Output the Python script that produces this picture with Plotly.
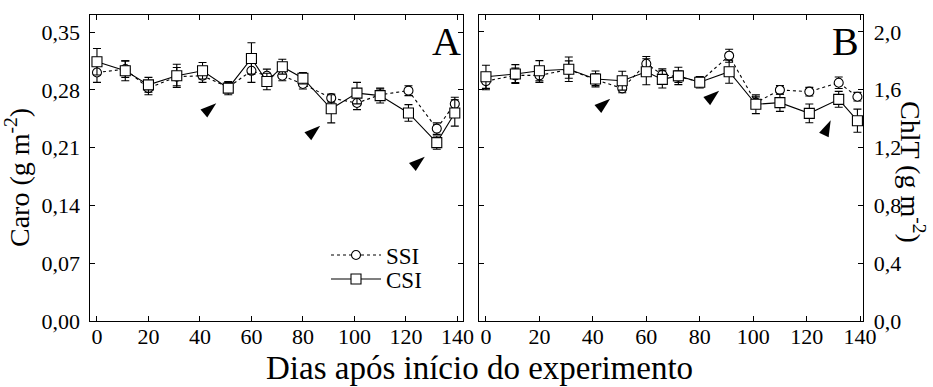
import plotly.graph_objects as go

days = [0, 11, 20, 31, 41, 51, 60, 66, 72, 80, 91, 101, 110, 121, 132, 139]

caro_ssi = [0.301, 0.305, 0.282, 0.296, 0.297, 0.283, 0.303, 0.297, 0.297, 0.287, 0.270, 0.264, 0.274, 0.279, 0.233, 0.263]
caro_ssi_err = [0.012, 0.010, 0.008, 0.011, 0.008, 0.006, 0.014, 0.008, 0.006, 0.006, 0.005, 0.008, 0.007, 0.006, 0.007, 0.008]
caro_csi = [0.314, 0.303, 0.286, 0.297, 0.303, 0.282, 0.318, 0.290, 0.308, 0.294, 0.257, 0.276, 0.273, 0.252, 0.216, 0.252]
caro_csi_err = [0.016, 0.012, 0.009, 0.014, 0.010, 0.008, 0.019, 0.010, 0.009, 0.007, 0.017, 0.013, 0.009, 0.010, 0.008, 0.016]

chl_ssi = [1.66, 1.70, 1.70, 1.74, 1.67, 1.61, 1.78, 1.705, 1.69, 1.656, 1.836, 1.511, 1.599, 1.587, 1.649, 1.552]
chl_ssi_err = [0.06, 0.05, 0.05, 0.06, 0.04, 0.03, 0.05, 0.04, 0.04, 0.03, 0.045, 0.04, 0.03, 0.03, 0.04, 0.03]
chl_csi = [1.69, 1.709, 1.732, 1.742, 1.675, 1.663, 1.725, 1.672, 1.696, 1.652, 1.725, 1.50, 1.511, 1.437, 1.534, 1.386]
chl_csi_err = [0.08, 0.065, 0.07, 0.085, 0.055, 0.065, 0.09, 0.06, 0.06, 0.04, 0.08, 0.065, 0.06, 0.065, 0.055, 0.08]

x_ticks = [0, 20, 40, 60, 80, 100, 120, 140]
caro_ticks = [0.0, 0.07, 0.14, 0.21, 0.28, 0.35]
caro_labels = ["0,00", "0,07", "0,14", "0,21", "0,28", "0,35"]
chl_ticks = [0.0, 0.4, 0.8, 1.2, 1.6, 2.0]
chl_labels = ["0,0", "0,4", "0,8", "1,2", "1,6", "2,0"]

arrow_days_A = [51, 91, 132]
arrow_days_B = [51, 91, 132]

FONT = "Liberation Serif"
W, H = 933, 387

# panel geometry (pixels)
XA_PX = (89.5, 463.3)
XB_PX = (479.0, 863.3)
Y_PX = (15.0, 321.0)  # top, bottom
XA_RANGE = [-2.9, 142.3]
XB_RANGE = [-2.6, 141.2]
YA_RANGE = [0, 0.3706]
YB_RANGE = [0, 2.1176]

fig = go.Figure()


def add_series(x, y, err, name, dash, symbol, size, xa, ya, show, legend):
    fig.add_trace(go.Scatter(
        x=x, y=y, name=name, xaxis=xa, yaxis=ya, showlegend=show, legend=legend,
        mode="lines+markers",
        line=dict(color="black", width=1.1, dash=dash),
        marker=dict(symbol=symbol, size=size, color="white",
                    line=dict(color="black", width=1.1)),
        error_y=dict(type="data", array=err, color="black", thickness=1.1, width=4),
    ))


add_series(days, caro_ssi, caro_ssi_err, "SSI", "3px,3px", "circle", 9, "x", "y", True, "legend")
add_series(days, caro_csi, caro_csi_err, "CSI", "solid", "square", 10, "x", "y", True, "legend2")
add_series(days, chl_ssi, chl_ssi_err, "SSI", "3px,3px", "circle", 9, "x2", "y2", False, "legend")
add_series(days, chl_csi, chl_csi_err, "CSI", "solid", "square", 10, "x2", "y2", False, "legend2")


def arrow_trace(arrow_days, values, xpx, xrange, yrange, xa, ya, offsets, angles):
    ppx = (xpx[1] - xpx[0]) / (xrange[1] - xrange[0])
    ppy = (Y_PX[1] - Y_PX[0]) / (yrange[1] - yrange[0])
    xs, ys = [], []
    for d, (ox, oy) in zip(arrow_days, offsets):
        v = values[days.index(d)]
        xs.append(d + ox / ppx)
        ys.append(v - oy / ppy)
    fig.add_trace(go.Scatter(
        x=xs, y=ys, xaxis=xa, yaxis=ya, mode="markers", showlegend=False,
        hoverinfo="skip",
        marker=dict(symbol="arrow", size=17, color="black", angle=angles,
                    line=dict(width=0)),
    ))


arrow_trace(arrow_days_A, caro_csi, XA_PX, XA_RANGE, YA_RANGE, "x", "y",
            [(-12, 15), (-11, 17), (-12, 14)], [50, 50, 50])
arrow_trace(arrow_days_B, chl_csi, XB_PX, XB_RANGE, YB_RANGE, "x2", "y2",
            [(-12, 18), (-10, 19), (-8, 21)], [50, 50, 25])

y_dom = [(H - Y_PX[1]) / H, (H - Y_PX[0]) / H]
axis_common = dict(showline=True, linecolor="black", linewidth=1.2, mirror="ticks",
                   ticks="inside", ticklen=5, tickwidth=1.1, tickcolor="black",
                   showgrid=False, zeroline=False, automargin=False,
                   tickfont=dict(family=FONT, size=22, color="black"))

legend_common = dict(xanchor="left", yanchor="middle", bgcolor="rgba(0,0,0,0)",
                     borderwidth=0, font=dict(family=FONT, size=23, color="black"),
                     itemwidth=50)

fig.update_layout(
    width=W, height=H,
    margin=dict(l=0, r=0, t=0, b=0, autoexpand=False),
    paper_bgcolor="white", plot_bgcolor="white",
    font=dict(family=FONT, color="black"),
    xaxis=dict(domain=[XA_PX[0] / W, XA_PX[1] / W], range=XA_RANGE, anchor="y",
               tickvals=x_ticks, ticklabelstandoff=-5, **axis_common),
    yaxis=dict(domain=y_dom, range=YA_RANGE, anchor="x", ticklabelstandoff=4,
               tickvals=caro_ticks, ticktext=caro_labels, **axis_common),
    xaxis2=dict(domain=[XB_PX[0] / W, XB_PX[1] / W], range=XB_RANGE, anchor="y2",
                tickvals=x_ticks, ticklabelstandoff=-5, **axis_common),
    yaxis2=dict(domain=y_dom, range=YB_RANGE, anchor="x2", side="right",
                ticklabelstandoff=5,
                tickvals=chl_ticks, ticktext=chl_labels, **axis_common),
    legend=dict(x=326 / W, y=(H - 255) / H, **legend_common),
    legend2=dict(x=326 / W, y=(H - 279) / H, **legend_common),
    showlegend=True,
)

annotations = [
    dict(text="Dias após início do experimento", x=480 / W, y=(H - 368) / H,
         xref="paper", yref="paper", showarrow=False, xanchor="center", yanchor="middle",
         font=dict(family=FONT, size=33, color="black")),
    dict(text="Caro (g m<sup>-2</sup>)", x=17 / W, y=(H - 178) / H,
         xref="paper", yref="paper", showarrow=False, textangle=-90,
         xanchor="center", yanchor="middle",
         font=dict(family=FONT, size=28, color="black")),
    dict(text="ChlT (g m<sup>-2</sup>)", x=913 / W, y=(H - 172) / H,
         xref="paper", yref="paper", showarrow=False, textangle=90,
         xanchor="center", yanchor="middle",
         font=dict(family=FONT, size=28, color="black")),
    dict(text="A", x=446 / W, y=(H - 41) / H, xref="paper", yref="paper",
         showarrow=False, xanchor="center", yanchor="middle",
         font=dict(family=FONT, size=40, color="black")),
    dict(text="B", x=845 / W, y=(H - 41) / H, xref="paper", yref="paper",
         showarrow=False, xanchor="center", yanchor="middle",
         font=dict(family=FONT, size=40, color="black")),
]

fig.update_layout(annotations=annotations)
fig.write_html(
    "out.html",
    config={"displayModeBar": False},
    post_script="document.body.style.margin='0';document.body.style.padding='0';",
)
